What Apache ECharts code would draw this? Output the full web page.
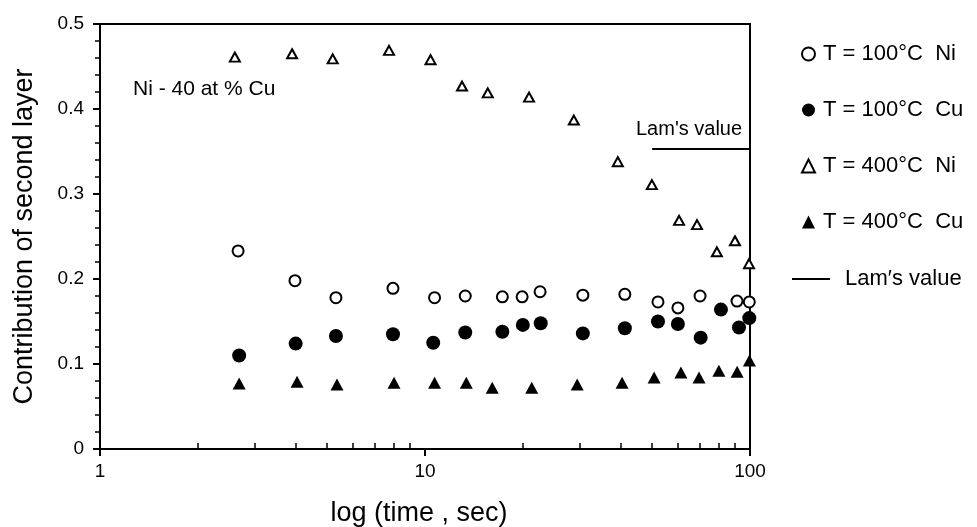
<!DOCTYPE html>
<html>
<head>
<meta charset="utf-8">
<script src="https://cdn.jsdelivr.net/npm/echarts@6/dist/echarts.min.js"></script>
<style>
  html, body { margin: 0; padding: 0; background: #fff; }
  #chart { width: 977px; height: 527px; }
</style>
</head>
<body>
<div id="chart"></div>
<script>
// T = 100°C Ni (open circles)
const ni100Time = [2.66, 3.98, 5.32, 7.97, 10.7, 13.3, 17.3, 19.9, 22.6, 30.6, 41.2, 52.1, 60.0, 70.2, 91.2, 99.5];
const ni100Val = [0.233, 0.198, 0.178, 0.189, 0.178, 0.180, 0.179, 0.179, 0.185, 0.181, 0.182, 0.173, 0.166, 0.180, 0.174, 0.173];

// T = 100°C Cu (filled circles)
const cu100Time = [2.68, 4.0, 5.32, 7.97, 10.6, 13.3, 17.3, 20.0, 22.7, 30.6, 41.2, 52.1, 60.0, 70.5, 81.4, 92.5, 99.5];
const cu100Val = [0.110, 0.124, 0.133, 0.135, 0.125, 0.137, 0.138, 0.146, 0.148, 0.136, 0.142, 0.150, 0.147, 0.131, 0.164, 0.143, 0.154];

// T = 400°C Ni (open triangles)
const ni400Time = [2.6, 3.9, 5.2, 7.75, 10.4, 13.0, 15.6, 20.9, 28.7, 39.2, 49.9, 60.5, 68.7, 79.1, 89.9, 99.3];
const ni400Val = [0.461, 0.465, 0.459, 0.469, 0.458, 0.427, 0.419, 0.414, 0.387, 0.338, 0.311, 0.269, 0.264, 0.232, 0.245, 0.218];

// T = 400°C Cu (filled triangles)
const cu400Time = [2.68, 4.04, 5.36, 8.03, 10.7, 13.4, 16.1, 21.3, 29.4, 40.4, 50.7, 61.3, 69.7, 80.2, 91.3, 99.6];
const cu400Val = [0.077, 0.079, 0.076, 0.078, 0.078, 0.078, 0.072, 0.072, 0.076, 0.078, 0.084, 0.090, 0.084, 0.092, 0.091, 0.104];

// Lam's value
const lamTime = [50, 100];
const lamVal = [0.353, 0.353];

const xMajorTicks = [1, 10, 100];
const xMinorTicks = [2, 3, 4, 5, 6, 7, 8, 9, 20, 30, 40, 50, 60, 70, 80, 90];

const seriesNames = ["T = 100°C  Ni", "T = 100°C  Cu", "T = 400°C  Ni", "T = 400°C  Cu"];
const lamName = "Lam\u2032s value";

const font = "'Liberation Sans', Arial, Helvetica, sans-serif";

function pairs(xs, ys) {
  return xs.map((x, i) => [x, ys[i]]);
}

const openStyle = { color: "#fff", borderColor: "#000", borderWidth: 2, opacity: 1 };
const fillStyle = { color: "#000", borderColor: "#000", borderWidth: 0, opacity: 1 };

const chart = echarts.init(document.getElementById("chart"), null, { renderer: "canvas" });

chart.setOption({
  animation: false,
  backgroundColor: "#fff",
  textStyle: { fontFamily: font, color: "#000" },
  grid: {
    left: 100, right: 227, top: 24, bottom: 78,
    outerBoundsMode: "none", containLabel: false,
    show: true, borderColor: "#000", borderWidth: 2, backgroundColor: "transparent"
  },
  legend: [
    {
      data: seriesNames,
      orient: "vertical",
      left: 796, top: 38,
      itemWidth: 13, itemHeight: 13, itemGap: 34,
      textStyle: { fontFamily: font, fontSize: 22, color: "#000", padding: [0, 0, 0, 3] },
      itemStyle: { opacity: 1 },
      selectedMode: false
    },
    {
      data: [{ name: lamName, icon: "rect" }],
      orient: "vertical",
      left: 787, top: 263,
      itemWidth: 38, itemHeight: 2,
      textStyle: { fontFamily: font, fontSize: 22, color: "#000", padding: [0, 0, 0, 10] },
      itemStyle: { color: "#000", opacity: 1 },
      selectedMode: false
    }
  ],
  xAxis: [
    {
      type: "log", logBase: 10, min: 1, max: 100,
      position: "bottom",
      name: "log (time , sec)", nameLocation: "middle", nameGap: 51,
      nameTextStyle: { fontFamily: font, fontSize: 27, color: "#000", padding: [0, 12, 0, 0] },
      axisLine: { lineStyle: { color: "#000", width: 2 } },
      axisTick: { customValues: xMajorTicks, length: 7, lineStyle: { color: "#000", width: 2 } },
      axisLabel: { customValues: xMajorTicks, fontFamily: font, fontSize: 19, color: "#000", margin: 13 },
      splitLine: { show: false }
    },
    {
      type: "log", logBase: 10, min: 1, max: 100,
      position: "bottom",
      axisLine: { show: false },
      axisTick: { customValues: xMinorTicks, inside: true, length: 6, lineStyle: { color: "#000", width: 1.5 } },
      axisLabel: { show: false },
      splitLine: { show: false }
    }
  ],
  yAxis: [
    {
      type: "value", min: 0, max: 0.5, interval: 0.1,
      position: "left",
      name: "Contribution of second layer", nameLocation: "middle", nameGap: 62,
      nameTextStyle: { fontFamily: font, fontSize: 27, color: "#000" },
      axisLine: { show: true, lineStyle: { color: "#000", width: 2 } },
      axisTick: { length: 7, lineStyle: { color: "#000", width: 2 } },
      axisLabel: {
        fontFamily: font, fontSize: 19, color: "#000", margin: 16,
        formatter: v => (v === 0 ? "0" : v.toFixed(1))
      },
      splitLine: { show: false }
    },
    {
      type: "value", min: 0, max: 0.5, interval: 0.02,
      position: "left", offset: 0,
      axisLine: { show: true, lineStyle: { color: "#000", width: 2 } },
      axisTick: { show: true, length: 5, lineStyle: { color: "#000", width: 1.5 } },
      axisLabel: { show: false },
      splitLine: { show: false }
    }
  ],
  graphic: [
    {
      type: "text", left: 133, top: 79,
      style: { text: "Ni - 40 at % Cu", font: "21px " + font, fill: "#000" }
    },
    {
      type: "text", left: 636, top: 119,
      style: { text: "Lam's value", font: "20px " + font, fill: "#000" }
    }
  ],
  series: [
    {
      name: seriesNames[0], type: "scatter", symbol: "circle", symbolSize: 11,
      itemStyle: openStyle, data: pairs(ni100Time, ni100Val), z: 3
    },
    {
      name: seriesNames[1], type: "scatter", symbol: "circle", symbolSize: 14,
      itemStyle: fillStyle, data: pairs(cu100Time, cu100Val), z: 2
    },
    {
      name: seriesNames[2], type: "scatter", symbol: "triangle", symbolSize: [10, 9],
      itemStyle: openStyle, data: pairs(ni400Time, ni400Val), z: 3
    },
    {
      name: seriesNames[3], type: "scatter", symbol: "triangle", symbolSize: [13, 12],
      itemStyle: fillStyle, data: pairs(cu400Time, cu400Val), z: 2
    },
    {
      name: lamName, type: "line", symbol: "none",
      lineStyle: { color: "#000", width: 2 }, itemStyle: { color: "#000" },
      data: pairs(lamTime, lamVal), z: 1
    }
  ]
});
</script>
</body>
</html>
